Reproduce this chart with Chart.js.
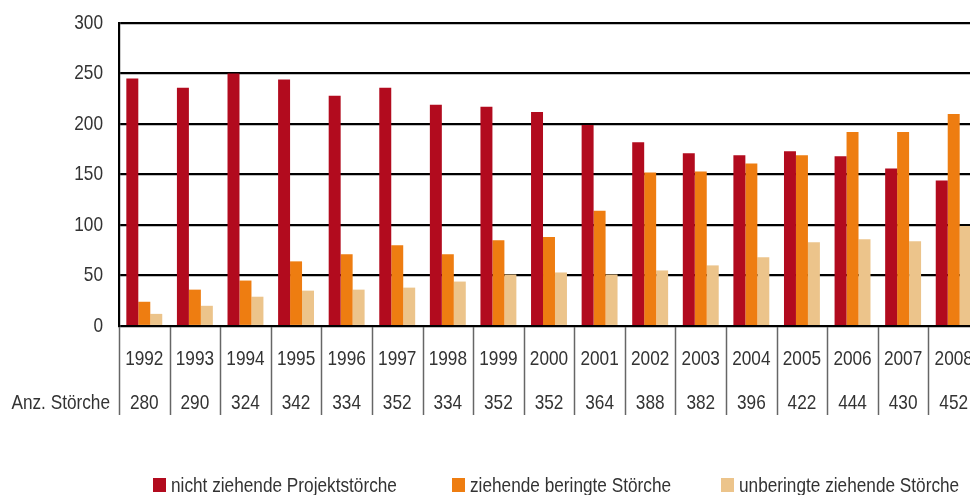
<!DOCTYPE html>
<html>
<head>
<meta charset="utf-8">
<script src="https://cdn.jsdelivr.net/npm/chart.js@4.4.1/dist/chart.umd.min.js"></script>
<style>
  html, body { margin: 0; padding: 0; background: #fff; overflow: hidden; }
  #wrap { width: 980px; height: 495px; }
</style>
</head>
<body>
<div id="wrap"><canvas id="storchChart" width="980" height="495"></canvas></div>
<script>
const years = ["1992", "1993", "1994", "1995", "1996", "1997", "1998", "1999", "2000",
  "2001", "2002", "2003", "2004", "2005", "2006", "2007", "2008"];
const anzStoerche = [280, 290, 324, 342, 334, 352, 334, 352, 352, 364, 388, 382, 396, 422, 444, 430, 452];
const nichtZiehend = [245, 236, 250, 244, 228, 236, 219, 217, 212, 199, 182, 171, 169, 173, 168, 156, 144];
const ziehendBeringt = [24, 36, 45, 64, 71, 80, 71, 85, 88, 114, 152, 153, 161, 169, 192, 192, 210];
const unberingt = [12, 20, 29, 35, 36, 38, 44, 51, 53, 51, 55, 60, 68, 83, 86, 84, 99];
const seriesLabels = ["nicht ziehende Projektstörche", "ziehende beringte Störche", "unberingte ziehende Störche"];
const seriesColors = ["#B20B1E", "#EE7D11", "#ECC48B"];
const rowLabel = "Anz. Störche";

// no narrow font installed -> squeeze Liberation Sans horizontally
const FONT = "21px 'Liberation Sans', Arial, sans-serif";
const SQUEEZE = 0.82;
const TEXT = "#333";

function narrowText(ctx, str, x, y, align) {
  ctx.save();
  ctx.translate(x, y);
  ctx.scale(SQUEEZE, 1);
  ctx.textAlign = align;
  ctx.fillText(str, 0, 0);
  ctx.restore();
}

// y labels, table under the plot and legend
const tablePlugin = {
  id: "tablePlugin",
  afterDraw(chart) {
    const ctx = chart.ctx;
    const x = chart.scales.x;
    const y = chart.scales.y;
    const area = chart.chartArea;
    const step = (area.right - area.left) / years.length;

    ctx.save();
    ctx.strokeStyle = "#666";
    ctx.lineWidth = 1.5;
    for (let i = 0; i <= years.length; i++) {
      const lx = Math.round(area.left + i * step) + 0.5;
      ctx.beginPath();
      ctx.moveTo(lx, area.bottom + 1);
      ctx.lineTo(lx, 415);
      ctx.stroke();
    }

    ctx.fillStyle = TEXT;
    ctx.font = FONT;
    ctx.textBaseline = "middle";

    y.ticks.forEach((t) => {
      narrowText(ctx, String(t.value), 103, y.getPixelForValue(t.value), "right");
    });

    years.forEach((yr, i) => {
      const cx = x.getPixelForValue(i);
      narrowText(ctx, yr, cx, 359, "center");
      narrowText(ctx, String(anzStoerche[i]), cx, 403, "center");
    });
    narrowText(ctx, rowLabel, 110, 403, "right");

    // legend
    const legendX = [153, 452, 721];
    chart.data.datasets.forEach((ds, i) => {
      ctx.fillStyle = ds.backgroundColor;
      ctx.fillRect(legendX[i], 478, 13, 14);
      ctx.fillStyle = TEXT;
      narrowText(ctx, ds.label, legendX[i] + 18, 486, "left");
    });
    ctx.restore();
  }
};

new Chart(document.getElementById("storchChart"), {
  type: "bar",
  data: {
    labels: years,
    datasets: [
      { label: seriesLabels[0], data: nichtZiehend, backgroundColor: seriesColors[0] },
      { label: seriesLabels[1], data: ziehendBeringt, backgroundColor: seriesColors[1] },
      { label: seriesLabels[2], data: unberingt, backgroundColor: seriesColors[2] }
    ]
  },
  options: {
    responsive: false,
    animation: false,
    devicePixelRatio: 1,
    layout: { padding: { top: 23, bottom: 169, left: 0, right: 1 } },
    datasets: {
      bar: { categoryPercentage: 0.71, barPercentage: 1.0, borderWidth: 0 }
    },
    plugins: {
      legend: { display: false },
      tooltip: { enabled: false }
    },
    scales: {
      x: { display: false },
      y: {
        min: 0,
        max: 300,
        afterFit(scale) { scale.width = 119; },
        ticks: { stepSize: 50, display: false },
        grid: { color: "#000", lineWidth: 2.2, drawTicks: false },
        border: { display: true, color: "#000", width: 2.2 }
      }
    }
  },
  plugins: [tablePlugin]
});
</script>
</body>
</html>
